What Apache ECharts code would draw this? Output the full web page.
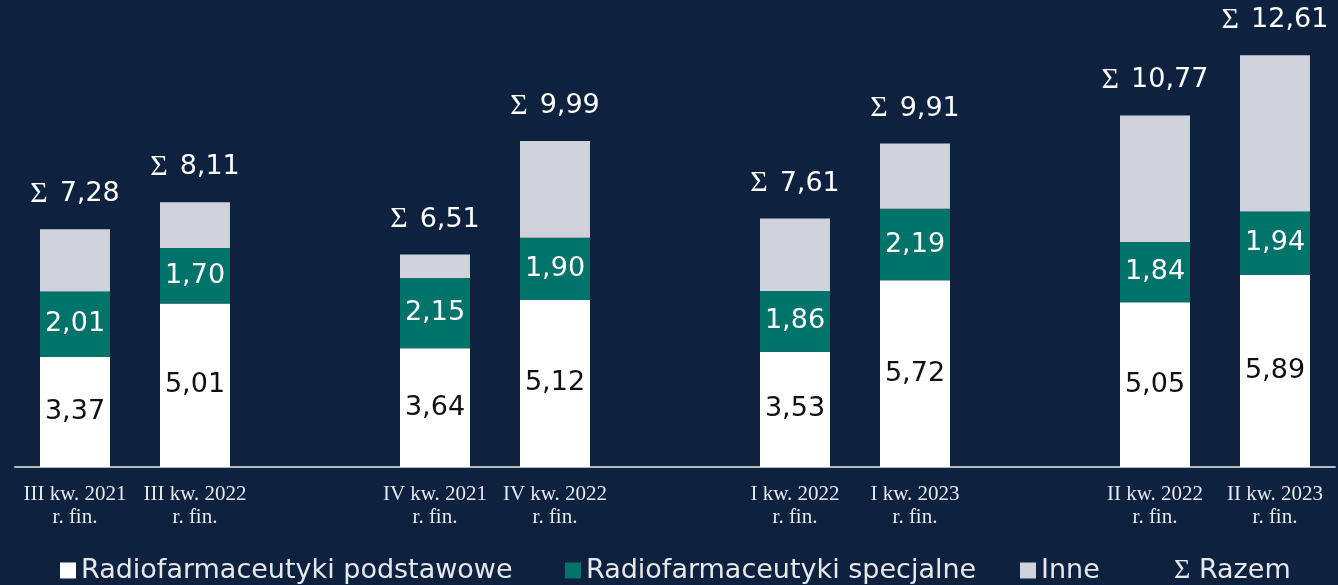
<!DOCTYPE html>
<html>
<head>
<meta charset="utf-8">
<script src="https://cdn.jsdelivr.net/npm/echarts@6/dist/echarts.min.js"></script>
<style>
  html, body { margin: 0; padding: 0; background: #0e2240; }
  #chart { width: 1338px; height: 585px; }
</style>
</head>
<body>
<div id="chart"></div>
<script>
// kategorie (puste = odstęp między parami)
const categories = [
  'III kw. 2021\nr. fin.', 'III kw. 2022\nr. fin.', '',
  'IV kw. 2021\nr. fin.', 'IV kw. 2022\nr. fin.', '',
  'I kw. 2022\nr. fin.', 'I kw. 2023\nr. fin.', '',
  'II kw. 2022\nr. fin.', 'II kw. 2023\nr. fin.'
];
const podstawowe = [3.37, 5.01, '-', 3.64, 5.12, '-', 3.53, 5.72, '-', 5.05, 5.89];
const specjalne  = [2.01, 1.70, '-', 2.15, 1.90, '-', 1.86, 2.19, '-', 1.84, 1.94];
const razem      = [7.28, 8.11, '-', 6.51, 9.99, '-', 7.61, 9.91, '-', 10.77, 12.61];

// Inne = razem - podstawowe - specjalne
const inne = razem.map((t, i) => t === '-' ? '-' : +(t - podstawowe[i] - specjalne[i]).toFixed(2));

const fmt = v => v.toFixed(2).replace('.', ',');
const sans = 'DejaVu Sans';
const legendText = { color: '#e6e8ec', fontSize: 27, fontFamily: sans };

function legendAt(name, left, icon) {
  return {
    data: [{ name: name, icon: icon }],
    left: left, top: 552,
    itemWidth: 16, itemHeight: 16, itemGap: 0,
    textStyle: legendText,
    formatter: n => n === 'Σ Razem' ? '{s|Σ} Razem' : n,
    selectedMode: false
  };
}

const chart = echarts.init(document.getElementById('chart'));
chart.setOption({
  backgroundColor: '#0e2240',
  animation: false,
  grid: { left: 15, right: 3, top: 10, bottom: 118 },
  legend: [
    legendAt('Radiofarmaceutyki podstawowe', 55, 'rect'),
    legendAt('Radiofarmaceutyki specjalne', 560, 'rect'),
    legendAt('Inne', 1015, 'rect'),
    Object.assign(legendAt('Σ Razem', 1148, 'none'), {
      textStyle: Object.assign({}, legendText, {
        rich: { s: { fontFamily: 'Liberation Serif', fontSize: 28, color: '#e6e8ec' } }
      })
    })
  ],
  xAxis: {
    type: 'category',
    data: categories,
    axisLine: { lineStyle: { color: '#b4b8c0', width: 2 } },
    axisTick: { show: false },
    axisLabel: {
      color: '#e6e8ec', fontFamily: 'Liberation Serif', fontSize: 21,
      lineHeight: 23, margin: 16, interval: 0
    }
  },
  yAxis: { type: 'value', min: 0, max: 14, show: false, splitLine: { show: false } },
  series: [
    {
      name: 'Radiofarmaceutyki podstawowe', type: 'bar', stack: 's', barWidth: 70,
      data: podstawowe,
      itemStyle: { color: '#ffffff' },
      label: { show: true, position: 'inside', color: '#111', fontSize: 27, fontFamily: sans,
        formatter: p => fmt(p.value) }
    },
    {
      name: 'Radiofarmaceutyki specjalne', type: 'bar', stack: 's', barWidth: 70,
      data: specjalne,
      itemStyle: { color: '#00736b' },
      label: { show: true, position: 'inside', color: '#ffffff', fontSize: 27, fontFamily: sans,
        formatter: p => fmt(p.value) }
    },
    {
      name: 'Inne', type: 'bar', stack: 's', barWidth: 70,
      data: inne,
      itemStyle: { color: '#cfd2da' },
      label: {
        show: true, position: 'top', distance: 20,
        formatter: p => '{s|Σ}{g|}{v|' + fmt(razem[p.dataIndex]) + '}',
        rich: {
          s: { color: '#ffffff', fontSize: 30, fontFamily: 'Liberation Serif' },
          g: { width: 12 },
          v: { color: '#ffffff', fontSize: 27, fontFamily: sans }
        }
      }
    },
    { name: 'Σ Razem', type: 'line', data: [], itemStyle: { color: 'transparent' } }
  ]
});
</script>
</body>
</html>
